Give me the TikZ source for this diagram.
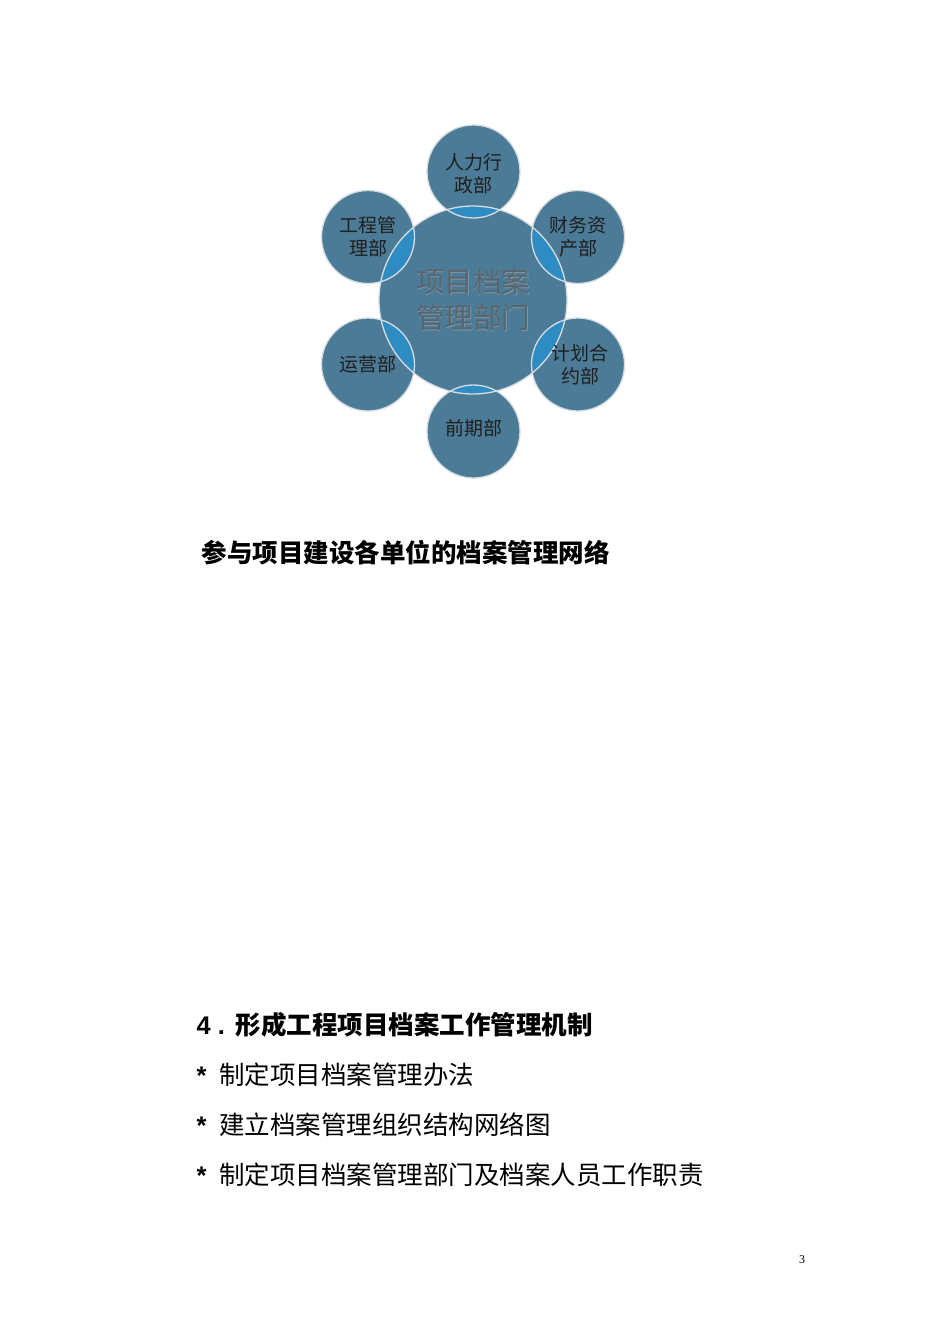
\documentclass[tikz,border=0pt]{standalone}
\usepackage{fontspec}
\setmainfont{Liberation Sans}
\newfontfamily\cjk{Noto Sans CJK SC}
\newfontfamily\pagefont{Liberation Serif}

\definecolor{deptblue}{HTML}{4B7B97}
\definecolor{overlapblue}{HTML}{2E8CC3}
\definecolor{rimgrey}{HTML}{D5DDE2}
\definecolor{hubtext}{HTML}{58656E}
\definecolor{hubglow}{HTML}{7F97A6}

\tikzset{
  rim/.style={draw=rimgrey,line width=1.3pt},
  depttext/.style={align=center,font=\cjk\fontsize{19}{23}\selectfont,text=black!88},
  hubtxt/.style={align=center,font=\cjk\fontsize{28.5}{36}\selectfont,text=hubtext},
  bodytext/.style={anchor=west,font=\cjk\fontsize{25.5}{30}\selectfont},
  headtext/.style={anchor=west,font=\cjk\bfseries\fontsize{25.5}{30}\selectfont}
}

\begin{document}
\begin{tikzpicture}[x=1pt,y=-1pt]
\useasboundingbox[fill=white] (0,0) rectangle (950,1344);

% ring of departments round the hub
\fill[deptblue] (473.5,171.5) circle (46.5);
\fill[deptblue] (578,237) circle (46.5);
\fill[deptblue] (578,364.5) circle (46.5);
\fill[deptblue] (473.5,431.5) circle (46.5);
\fill[deptblue] (368,364.5) circle (46.5);
\fill[deptblue] (368,237) circle (46.5);
\fill[deptblue] (473,300) circle (94);

\begin{scope}
\clip (473,300) circle (94);
\fill[overlapblue] (473.5,171.5) circle (46.5);
\fill[overlapblue] (578,237) circle (46.5);
\fill[overlapblue] (578,364.5) circle (46.5);
\fill[overlapblue] (473.5,431.5) circle (46.5);
\fill[overlapblue] (368,364.5) circle (46.5);
\fill[overlapblue] (368,237) circle (46.5);
\end{scope}

\draw[rim] (473,300) circle (94);
\draw[rim] (473.5,171.5) circle (46.5);
\draw[rim] (578,237) circle (46.5);
\draw[rim] (578,364.5) circle (46.5);
\draw[rim] (473.5,431.5) circle (46.5);
\draw[rim] (368,364.5) circle (46.5);
\draw[rim] (368,237) circle (46.5);

\node[hubtxt,text=hubglow] (hubshade) at (473.8,300.8) {项目档案\\管理部门};
\node[hubtxt] (hub) at (473,300) {项目档案\\管理部门};
\node[depttext] (renli) at (473.5,173.5) {人力行\\政部};
\node[depttext] (caiwu) at (578,237) {财务资\\产部};
\node[depttext] (jihua) at (580,364.5) {计划合\\约部};
\node[depttext] (qianqi) at (473.5,428) {前期部};
\node[depttext] (yunying) at (368,364) {运营部};
\node[depttext] (gongcheng) at (368,237) {工程管\\理部};

\node[headtext] (caption) at (198,553) {参与项目建设各单位的档案管理网络};

\node[headtext] (sec4) at (193,1025) {{\rmfamily\bfseries 4\ .}\hspace{11pt}形成工程项目档案工作管理机制};
\node[bodytext] (item1) at (193,1075) {{\rmfamily\bfseries *}\hspace{13pt}制定项目档案管理办法};
\node[bodytext] (item2) at (193,1125) {{\rmfamily\bfseries *}\hspace{13pt}建立档案管理组织结构网络图};
\node[bodytext] (item3) at (193,1175) {{\rmfamily\bfseries *}\hspace{13pt}制定项目档案管理部门及档案人员工作职责};

\node[font=\pagefont\fontsize{12}{14}\selectfont] (pageno) at (802,1260) {3};
\end{tikzpicture}
\end{document}
